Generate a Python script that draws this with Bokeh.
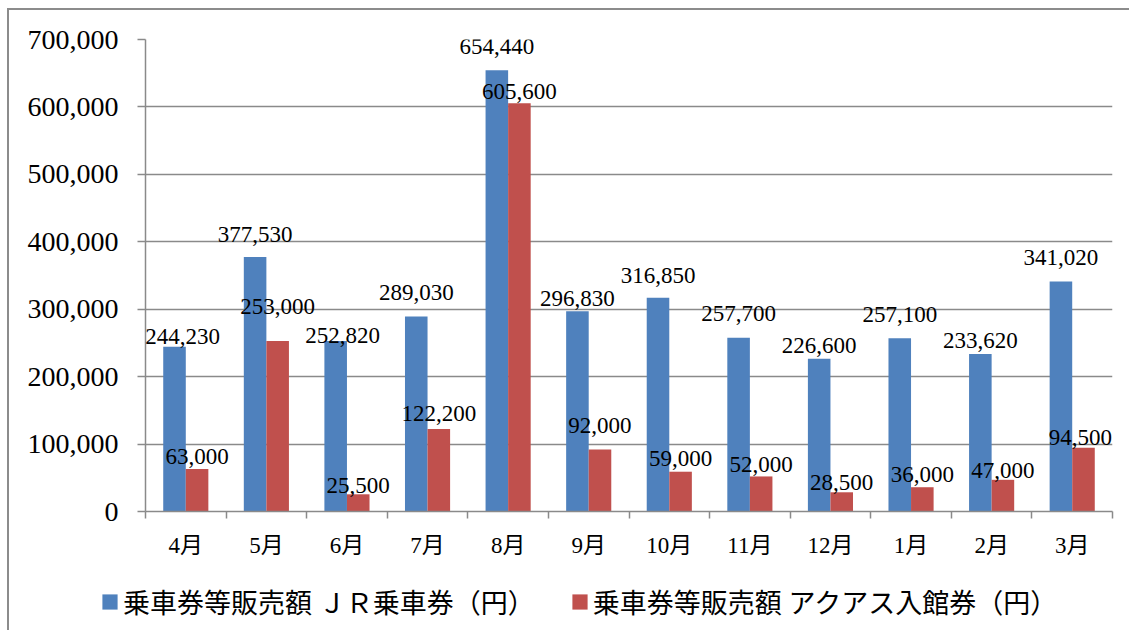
from bokeh.plotting import figure
from bokeh.layouts import column
from bokeh.models import (Range1d, FixedTicker, NumeralTickFormatter, Legend,
                          LegendItem, ColumnDataSource)
from bokeh.transform import dodge
from bokeh.core.properties import value
from bokeh.embed import file_html
from bokeh.resources import INLINE

months = ["4月", "5月", "6月", "7月", "8月", "9月", "10月", "11月", "12月", "1月", "2月", "3月"]
jr = [244230, 377530, 252820, 289030, 654440, 296830, 316850, 257700, 226600, 257100, 233620, 341020]
aquas = [63000, 253000, 25500, 122200, 605600, 92000, 59000, 52000, 28500, 36000, 47000, 94500]
y_ticks = [0, 100000, 200000, 300000, 400000, 500000, 600000, 700000]
series_names = ["乗車券等販売額 ＪＲ乗車券（円）", "乗車券等販売額 アクアス入館券（円）"]

BLUE = "#4F81BD"
RED = "#C0504D"
GREY = "#8a8a8a"
FONT = "'Liberation Serif', 'Noto Sans CJK JP'"

# data-label placement (screen px, relative to the bar top), as in the original
jr_lbl_dx = [8, 0, 7, 0, 0, 0, 0, 0, 0, 0, 0, 0]
jr_lbl_dy = [-10, -22, -6, -24, -24, -13, -22, -24, -13, -24, -13, -24]
aq_lbl_dx = [0, 0, 0, 0, 0, 0, 0, 0, 0, 0, 0, -3]
aq_lbl_dy = [-13, -34, -9, -16, -12, -24, -13, -12, -10, -13, -9, -10]

n = len(months)
pos = [i + 0.5 for i in range(n)]
src = ColumnDataSource(dict(
    x=pos, month=months, jr=jr, aquas=aquas,
    jr_lbl=[f"{v:,}" for v in jr], aq_lbl=[f"{v:,}" for v in aquas],
    jr_dx=jr_lbl_dx, jr_dy=jr_lbl_dy, aq_dx=aq_lbl_dx, aq_dy=aq_lbl_dy,
))

p = figure(width=1120, height=560, output_backend="svg", toolbar_location=None,
           x_range=Range1d(0, n), y_range=Range1d(0, 700000),
           min_border_left=136, min_border_right=17, min_border_top=29, min_border_bottom=59)
p.outline_line_color = None
p.background_fill_color = "white"

w = 0.28
r1 = p.vbar(x=dodge("x", -w / 2, range=p.x_range), top="jr", width=w, source=src,
            fill_color=BLUE, line_color=None)
r2 = p.vbar(x=dodge("x", w / 2, range=p.x_range), top="aquas", width=w, source=src,
            fill_color=RED, line_color=None)

p.text(x=dodge("x", -w / 2, range=p.x_range), y="jr", text="jr_lbl", source=src,
       x_offset="jr_dx", y_offset="jr_dy",
       text_align="center", text_baseline="middle", text_font=value(FONT),
       text_font_size="23px", text_color="black")
p.text(x=dodge("x", w / 2, range=p.x_range), y="aquas", text="aq_lbl", source=src,
       x_offset="aq_dx", y_offset="aq_dy",
       text_align="center", text_baseline="middle", text_font=value(FONT),
       text_font_size="23px", text_color="black")

# y axis
p.yaxis.ticker = FixedTicker(ticks=y_ticks)
p.yaxis.formatter = NumeralTickFormatter(format="0,0")
p.yaxis.major_label_text_font = FONT
p.yaxis.major_label_text_font_size = "28px"
p.yaxis.major_label_text_color = "black"
p.yaxis.axis_line_color = GREY
p.yaxis.axis_line_width = 1.5
p.yaxis.major_tick_line_color = GREY
p.yaxis.major_tick_line_width = 1.5
p.yaxis.major_tick_in = 0
p.yaxis.major_tick_out = 8
p.yaxis.minor_tick_line_color = None
p.yaxis.major_label_standoff = 19

p.ygrid.ticker = FixedTicker(ticks=y_ticks)
p.ygrid.grid_line_color = GREY
p.ygrid.grid_line_width = 1.5
p.xgrid.grid_line_color = None

# x axis: labels at centres, tick marks at category boundaries
p.xaxis.ticker = FixedTicker(ticks=pos, minor_ticks=list(range(n + 1)))
p.xaxis.major_label_overrides = {v: m for v, m in zip(pos, months)}
p.xaxis.major_label_text_font = FONT
p.xaxis.major_label_text_font_size = "23px"
p.xaxis.major_label_text_color = "black"
p.xaxis.axis_line_color = GREY
p.xaxis.axis_line_width = 1.5
p.xaxis.major_tick_line_color = None
p.xaxis.major_tick_in = 0
p.xaxis.major_tick_out = 7
p.xaxis.minor_tick_line_color = GREY
p.xaxis.minor_tick_line_width = 1.5
p.xaxis.minor_tick_in = 0
p.xaxis.minor_tick_out = 7
p.xaxis.major_label_standoff = 14

# legend strip (its own small figure so the legend may extend left of the chart frame)
p2 = figure(width=1120, height=60, output_backend="svg", toolbar_location=None,
            x_axis_location=None, y_axis_location=None,
            x_range=Range1d(0, 1), y_range=Range1d(0, 1),
            min_border=0)
p2.frame_align = False
p2.outline_line_color = None
p2.xgrid.grid_line_color = None
p2.ygrid.grid_line_color = None
l1 = p2.vbar(x=[-1], top=[0], width=0.1, fill_color=BLUE, line_color=None)
l2 = p2.vbar(x=[-1], top=[0], width=0.1, fill_color=RED, line_color=None)
legend = Legend(items=[LegendItem(label=series_names[0], renderers=[l1]),
                       LegendItem(label=series_names[1], renderers=[l2])],
                orientation="horizontal", location=(91, 9),
                glyph_width=19, glyph_height=19, label_standoff=4, spacing=35,
                label_text_font=FONT, label_text_font_size="27px",
                label_text_color="black", border_line_color=None,
                background_fill_alpha=0, padding=10, margin=0)
p2.add_layout(legend, "center")

layout = column(p, p2, spacing=0)
layout.styles = {"margin-left": "7px", "margin-top": "8px",
                 "border-left": "2px solid #8c8c8c", "border-top": "2px solid #8c8c8c"}

open("out.html", "w").write(file_html(layout, INLINE))
